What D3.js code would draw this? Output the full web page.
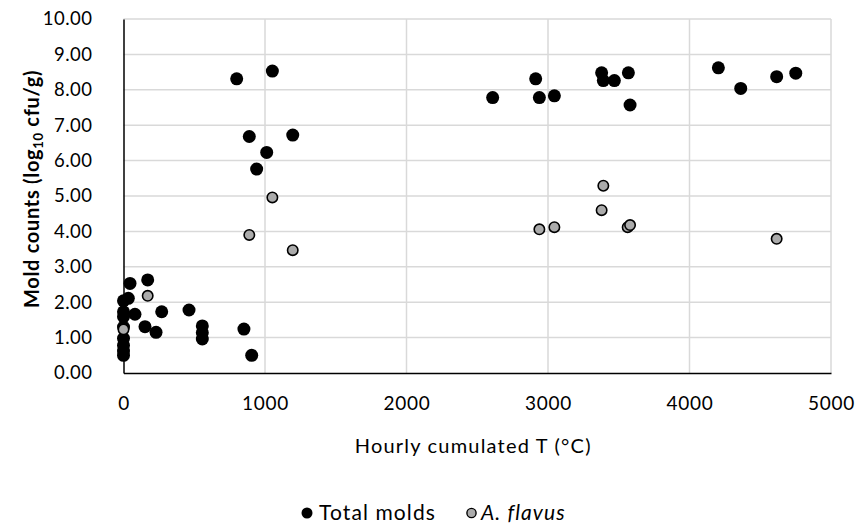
<!DOCTYPE html>
<html>
<head>
<meta charset="utf-8">
<script src="https://cdn.jsdelivr.net/npm/d3@7"></script>
<style>
  html, body { margin: 0; padding: 0; background: #fff; }
  svg { display: block; }
  text { font-family: Lato, "Open Sans", sans-serif; fill: #000; }
</style>
</head>
<body>
<svg id="chart" width="861" height="532"></svg>
<script>
// Total molds: hourly cumulated temperature (°C) and log10 cfu/g
const totalX = [0, 0, 0, 0, 0, 0, 0, 0, 34, 46, 81, 152, 171, 230, 270, 463,
  557, 557, 557, 851, 906, 800, 1052, 889, 1196, 1012, 941,
  2609, 2913, 2939, 3045, 3379, 3391, 3469, 3568, 3580,
  4204, 4362, 4616, 4751];
const totalY = [0.50, 0.62, 0.78, 0.98, 1.30, 1.59, 1.73, 2.04, 2.11, 2.53, 1.66, 1.31, 2.63, 1.15, 1.73, 1.78,
  1.33, 1.14, 0.96, 1.24, 0.50, 8.31, 8.53, 6.68, 6.72, 6.23, 5.76,
  7.78, 8.31, 7.78, 7.83, 8.48, 8.26, 8.26, 8.48, 7.57,
  8.62, 8.04, 8.37, 8.47];

// A. flavus counts
const flavusX = [0, 171, 889, 1052, 1196, 2939, 3045, 3379, 3391, 3563, 3580, 4616];
const flavusY = [1.23, 2.18, 3.90, 4.96, 3.47, 4.06, 4.12, 4.60, 5.29, 4.12, 4.18, 3.79];

const xTicks = [0, 1000, 2000, 3000, 4000, 5000];
const yTicks = [0, 1, 2, 3, 4, 5, 6, 7, 8, 9, 10];

const seriesNames = ["Total molds", "A. flavus"];

const svg = d3.select("#chart");
const margin = { top: 19, right: 30, bottom: 159, left: 123.5 };
const W = 861, H = 532;
const innerW = W - margin.left - margin.right;
const innerH = H - margin.top - margin.bottom;

const x = d3.scaleLinear().domain([0, 5000]).range([margin.left, margin.left + innerW]);
const y = d3.scaleLinear().domain([0, 10]).range([margin.top + innerH, margin.top]);

// gridlines
const grid = svg.append("g");
grid.selectAll("line.h").data(yTicks.filter(d => d > 0)).join("line")
  .attr("x1", x(0)).attr("x2", x(5000))
  .attr("y1", d => y(d)).attr("y2", d => y(d))
  .attr("stroke", "#d9d9d9").attr("stroke-width", 1.5);
grid.selectAll("line.v").data(xTicks.filter(d => d > 0)).join("line")
  .attr("x1", d => x(d)).attr("x2", d => x(d))
  .attr("y1", y(0)).attr("y2", y(10))
  .attr("stroke", "#d9d9d9").attr("stroke-width", 1.5);

// axes
const xAxis = svg.append("g")
  .attr("transform", `translate(0,${y(0)})`)
  .call(d3.axisBottom(x).tickValues(xTicks).tickSize(0).tickPadding(24).tickFormat(d3.format("d")));
xAxis.select(".domain").attr("stroke", "#000").attr("stroke-width", 1.5);
xAxis.selectAll("text").attr("font-size", 19).attr("font-family", "Lato").style("letter-spacing", "0.7px");

const yAxis = svg.append("g")
  .attr("transform", `translate(${x(0)},0)`)
  .call(d3.axisLeft(y).tickValues(yTicks).tickSize(0).tickPadding(31).tickFormat(d3.format(".2f")));
yAxis.select(".domain").attr("stroke", "#000").attr("stroke-width", 1.5);
yAxis.selectAll("text").attr("font-size", 18.5).attr("font-family", "Lato").style("letter-spacing", "0.5px");

// points: total molds, then A. flavus on top
const totalData = totalX.map((v, i) => [v, totalY[i]]);
const flavusData = flavusX.map((v, i) => [v, flavusY[i]]);

svg.append("g").selectAll("circle").data(totalData).join("circle")
  .attr("cx", d => x(d[0])).attr("cy", d => y(d[1]))
  .attr("r", 6.5).attr("fill", "#000");

svg.append("g").selectAll("circle").data(flavusData).join("circle")
  .attr("cx", d => x(d[0])).attr("cy", d => y(d[1]))
  .attr("r", 5.2).attr("fill", "#ababab")
  .attr("stroke", "#000").attr("stroke-width", 1.6);

// axis titles
svg.append("text")
  .attr("x", (x(0) + x(5000)) / 2 - 4).attr("y", 453)
  .attr("text-anchor", "middle").attr("font-size", 20)
  .style("letter-spacing", "1.2px")
  .text("Hourly cumulated T (°C)");

const yt = svg.append("text")
  .attr("transform", `translate(39,${(y(0) + y(10)) / 2 - 7}) rotate(-90)`)
  .attr("text-anchor", "middle").attr("font-size", 20).attr("font-weight", "bold")
  .style("letter-spacing", "0.7px");
yt.append("tspan").text("Mold counts (log");
yt.append("tspan").attr("font-size", 13).attr("dy", 4).text("10");
yt.append("tspan").attr("dy", -4).text(" cfu/g)");

// legend
const lg = svg.append("g");
lg.append("circle").attr("cx", 307).attr("cy", 513).attr("r", 5.5).attr("fill", "#000");
lg.append("text").attr("x", 319).attr("y", 520).attr("font-size", 21)
  .style("letter-spacing", "1.1px").text(seriesNames[0]);
lg.append("circle").attr("cx", 471.5).attr("cy", 513).attr("r", 4.6)
  .attr("fill", "#ababab").attr("stroke", "#000").attr("stroke-width", 1.4);
lg.append("text").attr("x", 481).attr("y", 520).attr("font-size", 21)
  .attr("font-style", "italic").style("letter-spacing", "1.1px").text(seriesNames[1]);
</script>
</body>
</html>
